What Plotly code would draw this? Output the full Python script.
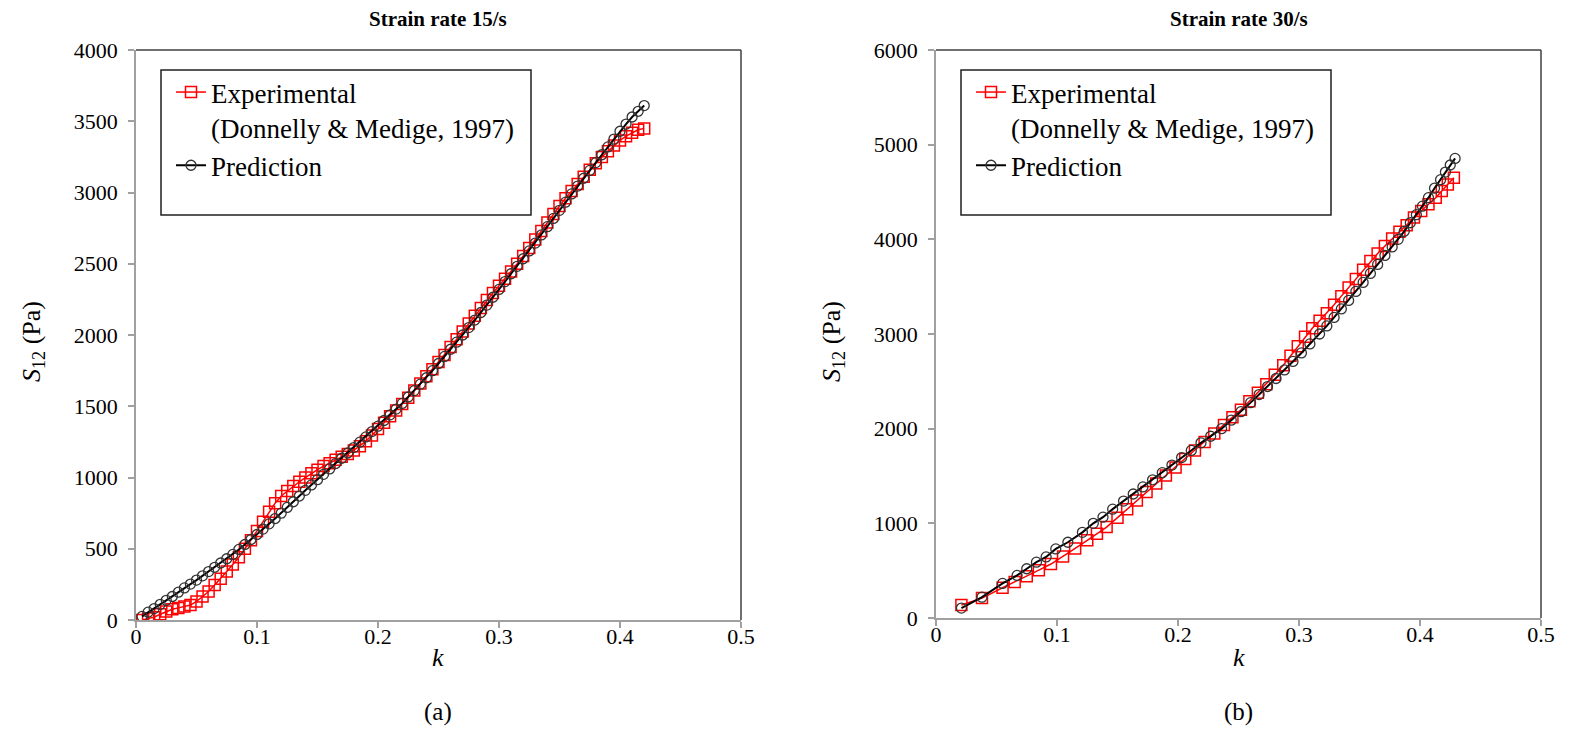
import plotly.graph_objects as go

# ---- Strain rate 15/s -------------------------------------------------------
k_exp_15 = [0.005, 0.010, 0.015, 0.020, 0.025, 0.030, 0.035, 0.040, 0.045, 0.050,
            0.055, 0.060, 0.065, 0.070, 0.075, 0.080, 0.085, 0.090, 0.095, 0.100,
            0.105, 0.110, 0.115, 0.120, 0.125, 0.130, 0.135, 0.140, 0.145, 0.150,
            0.155, 0.160, 0.165, 0.170, 0.175, 0.180, 0.185, 0.190, 0.195, 0.200,
            0.205, 0.210, 0.215, 0.220, 0.225, 0.230, 0.235, 0.240, 0.245, 0.250,
            0.255, 0.260, 0.265, 0.270, 0.275, 0.280, 0.285, 0.290, 0.295, 0.300,
            0.305, 0.310, 0.315, 0.320, 0.325, 0.330, 0.335, 0.340, 0.345, 0.350,
            0.355, 0.360, 0.365, 0.370, 0.375, 0.380, 0.385, 0.390, 0.395, 0.400,
            0.405, 0.410, 0.415, 0.420]
s_exp_15 = [0, 10, 20, 40, 60, 75, 85, 95, 105, 130,
            165, 200, 245, 290, 340, 390, 440, 500, 560, 625,
            690, 760, 820, 870, 905, 940, 970, 1000, 1030, 1055,
            1080, 1100, 1125, 1145, 1165, 1190, 1220, 1255, 1295, 1340,
            1385, 1430, 1470, 1515, 1560, 1610, 1660, 1710, 1760, 1810,
            1860, 1915, 1970, 2025, 2080, 2135, 2190, 2245, 2295, 2345,
            2395, 2445, 2500, 2555, 2610, 2670, 2730, 2790, 2850, 2905,
            2960, 3010, 3060, 3110, 3160, 3205, 3250, 3290, 3330, 3365,
            3395, 3420, 3440, 3450]

k_pred_15 = k_exp_15
s_pred_15 = [25, 55, 80, 110, 138, 165, 195, 225, 252, 280,
             310, 340, 370, 400, 430, 460, 495, 530, 565, 600,
             638, 675, 712, 750, 790, 830, 870, 910, 948, 985,
             1022, 1060, 1098, 1135, 1172, 1210, 1248, 1285, 1322, 1360,
             1400, 1440, 1480, 1520, 1565, 1610, 1655, 1700, 1750, 1800,
             1850, 1900, 1950, 2000, 2052, 2105, 2158, 2210, 2265, 2320,
             2375, 2430, 2482, 2535, 2590, 2645, 2702, 2760, 2818, 2875,
             2932, 2990, 3045, 3100, 3155, 3210, 3265, 3320, 3375, 3430,
             3480, 3530, 3570, 3610]

# ---- Strain rate 30/s -------------------------------------------------------
k_exp_30 = [0.021, 0.038, 0.055, 0.065, 0.075, 0.085, 0.095, 0.105, 0.115, 0.125,
            0.133, 0.141, 0.150, 0.158, 0.166, 0.174, 0.182, 0.190, 0.198, 0.206,
            0.214, 0.222, 0.230, 0.238, 0.245, 0.252, 0.259, 0.266, 0.273, 0.280,
            0.287, 0.293, 0.299, 0.305, 0.311, 0.317, 0.323, 0.329, 0.335, 0.341,
            0.347, 0.353, 0.359, 0.365, 0.371, 0.377, 0.383, 0.389, 0.395, 0.401,
            0.407, 0.413, 0.418, 0.423, 0.428]
s_exp_30 = [137, 210, 320, 380, 440, 505, 570, 650, 735, 820,
            890, 960, 1060, 1150, 1240, 1330, 1420, 1505, 1590, 1680,
            1770, 1860, 1950, 2040, 2120, 2200, 2290, 2380, 2470, 2570,
            2670, 2770, 2870, 2970, 3060, 3140, 3220, 3310, 3400, 3490,
            3580, 3680, 3770, 3850, 3930, 4010, 4080, 4150, 4230, 4300,
            4370, 4440, 4510, 4580, 4650]

k_pred_30 = [0.021, 0.038, 0.055, 0.067, 0.075, 0.083, 0.091, 0.099, 0.109, 0.121,
             0.130, 0.138, 0.146, 0.155, 0.163, 0.171, 0.179, 0.187, 0.195, 0.203,
             0.211, 0.219, 0.227, 0.236, 0.244, 0.252, 0.260, 0.267, 0.274, 0.281,
             0.288, 0.295, 0.302, 0.309, 0.317, 0.323, 0.329, 0.335, 0.341, 0.347,
             0.353, 0.359, 0.365, 0.371, 0.377, 0.382, 0.387, 0.392, 0.397, 0.402,
             0.407, 0.412, 0.417, 0.421, 0.425, 0.429]
s_pred_30 = [105, 220, 365, 450, 520, 590, 645, 730, 800, 905,
             1000, 1065, 1150, 1235, 1310, 1385, 1460, 1535, 1615, 1695,
             1770, 1850, 1920, 2000, 2090, 2180, 2275, 2360, 2445, 2530,
             2620, 2710, 2800, 2895, 3000, 3085, 3175, 3265, 3355, 3450,
             3545, 3640, 3735, 3830, 3920, 4000, 4085, 4175, 4260, 4350,
             4440, 4540, 4630, 4710, 4785, 4855]

titles = ["Strain rate 15/s", "Strain rate 30/s"]
panel_labels = ["(a)", "(b)"]
exp_name = "Experimental<br>(Donnelly & Medige, 1997)"
pred_name = "Prediction"

FONT = "Liberation Serif"
RED = "#ff0000"
BLACK = "#000000"
AXIS_GREY = "#a0a0a0"
FRAME = "#404040"

W, H = 1574, 751
# plot areas in pixels: (left, right, top, bottom)
areas = [(136, 741, 50, 620), (936, 1541, 50, 618)]


def px_x(p):
    return p / W


def px_y(p):
    return 1 - p / H


fig = go.Figure()

panels = [
    (k_exp_15, s_exp_15, k_pred_15, s_pred_15, 4000, 500),
    (k_exp_30, s_exp_30, k_pred_30, s_pred_30, 6000, 1000),
]

for i, (kx, sx, kp, sp, ymax, dy) in enumerate(panels):
    sfx = "" if i == 0 else str(i + 1)
    leg = "legend" if i == 0 else "legend2"
    fig.add_trace(go.Scatter(
        x=kx, y=sx, mode="lines+markers", name=exp_name,
        xaxis="x" + sfx, yaxis="y" + sfx, legend=leg,
        line=dict(color=RED, width=1.5),
        marker=dict(symbol="square-open", size=11, color=RED,
                    line=dict(color=RED, width=1.5)),
    ))
    fig.add_trace(go.Scatter(
        x=kp, y=sp, mode="lines+markers", name=pred_name,
        xaxis="x" + sfx, yaxis="y" + sfx, legend=leg,
        line=dict(color=BLACK, width=2),
        marker=dict(symbol="circle-open", size=10, color="#333333",
                    line=dict(color="#333333", width=1.3)),
    ))

layout = dict(
    template="none",
    width=W, height=H,
    margin=dict(l=0, r=0, t=0, b=0, pad=0),
    paper_bgcolor="white", plot_bgcolor="white",
    font=dict(family=FONT, size=22, color="black"),
    showlegend=True,
    shapes=[], annotations=[],
)

for i, (l, r, t, b) in enumerate(areas):
    sfx = "" if i == 0 else str(i + 1)
    ymax, dy = panels[i][4], panels[i][5]
    common = dict(
        showline=True, linecolor=AXIS_GREY, linewidth=1.5,
        ticks="outside", ticklen=6, tickwidth=1.5, tickcolor=AXIS_GREY,
        showgrid=False, zeroline=False, mirror=False, automargin=False,
        tickfont=dict(family=FONT, size=22, color="black"),
    )
    layout["xaxis" + sfx] = dict(
        domain=[px_x(l), px_x(r)], range=[0, 0.5], dtick=0.1, tick0=0,
        anchor="y" + sfx, ticklabelstandoff=-10, **common)
    layout["yaxis" + sfx] = dict(
        domain=[px_y(b), px_y(t)], range=[0, ymax], dtick=dy, tick0=0,
        anchor="x" + sfx, ticklabelstandoff=6, **common)

    xr, yr = "x" + sfx + " domain", "y" + sfx + " domain"
    # dark frame on the top and right edges
    layout["shapes"].append(dict(type="line", xref=xr, yref=yr, x0=0, x1=1, y0=1, y1=1,
                                 line=dict(color=FRAME, width=1.5)))
    layout["shapes"].append(dict(type="line", xref=xr, yref=yr, x0=1, x1=1, y0=0, y1=1,
                                 line=dict(color=FRAME, width=1.5)))
    # legend box
    lx0 = l + 25
    layout["shapes"].append(dict(type="rect", xref="paper", yref="paper",
                                 x0=px_x(lx0), x1=px_x(lx0 + 370),
                                 y0=px_y(215), y1=px_y(70),
                                 line=dict(color="#202020", width=1.5),
                                 fillcolor="rgba(0,0,0,0)"))
    leg = "legend" if i == 0 else "legend2"
    layout[leg] = dict(
        x=px_x(lx0 + 10), y=px_y(68), xanchor="left", yanchor="top",
        xref="paper", yref="paper",
        bgcolor="rgba(0,0,0,0)", borderwidth=0,
        font=dict(family=FONT, size=27, color="black"),
        valign="top", itemwidth=30, tracegroupgap=0,
    )

    cx = (l + r) / 2
    ann = dict(xref="paper", yref="paper", showarrow=False,
               xanchor="center", yanchor="middle")
    layout["annotations"] += [
        dict(text="<b>" + titles[i] + "</b>", x=px_x(cx), y=px_y(19),
             font=dict(family=FONT, size=21, color="black"), **ann),
        dict(text="<i>k</i>", x=px_x(cx), y=px_y(657),
             font=dict(family=FONT, size=26, color="black"), **ann),
        dict(text=panel_labels[i], x=px_x(cx), y=px_y(712),
             font=dict(family=FONT, size=25, color="black"), **ann),
        dict(text="<i>S</i><sub>12</sub> (Pa)", x=px_x(l - 103), y=px_y(342),
             textangle=-90,
             font=dict(family=FONT, size=26, color="black"), **ann),
    ]

fig.update_layout(**layout)
fig.write_html("out.html")
